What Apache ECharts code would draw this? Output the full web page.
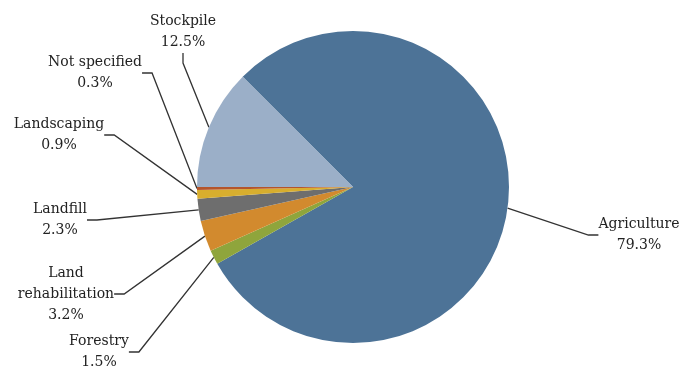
<!DOCTYPE html>
<html>
<head>
<meta charset="utf-8">
<script src="https://cdn.jsdelivr.net/npm/echarts@6/dist/echarts.min.js"></script>
<style>
  html, body { margin: 0; padding: 0; background: #ffffff; }
  #chart { width: 685px; height: 367px; }
</style>
</head>
<body>
<div id="chart"></div>
<script>
// Data (percent shares)
const categories = ["Agriculture", "Forestry", "Land\nrehabilitation", "Landfill", "Landscaping", "Not specified", "Stockpile"];
const values = [79.3, 1.5, 3.2, 2.3, 0.9, 0.3, 12.5];
const valueLabels = ["79.3%", "1.5%", "3.2%", "2.3%", "0.9%", "0.3%", "12.5%"];

// Styling (kept separate from data)
const colors = ["#4d7397", "#8fa53c", "#d28a2e", "#6e6e6e", "#d8ae2e", "#b4552c", "#9bafc8"];
const labelCenters = {
  "Agriculture": [639, 235],
  "Forestry": [99, 352],
  "Land\nrehabilitation": [66, 294],
  "Landfill": [60, 220],
  "Landscaping": [59, 135],
  "Not specified": [95, 73],
  "Stockpile": [183, 32]
};

const data = categories.map((c, i) => ({
  name: c,
  value: values[i],
  itemStyle: { color: colors[i] },
  label: { formatter: c + "\n" + valueLabels[i] }
}));

const chart = echarts.init(document.getElementById('chart'), null, { renderer: 'canvas' });
chart.setOption({
  backgroundColor: '#ffffff',
  animation: false,
  series: [{
    type: 'pie',
    center: [353, 187],
    radius: [0, 156],
    startAngle: 135,
    clockwise: true,
    avoidLabelOverlap: false,
    data: data,
    label: {
      show: true,
      position: 'outside',
      color: '#222222',
      fontFamily: 'DejaVu Serif',
      fontSize: 14,
      lineHeight: 21,
      align: 'center'
    },
    labelLine: {
      show: true,
      length: 10,
      length2: 10,
      lineStyle: { color: '#333333', width: 1.3 }
    },
    labelLayout: function (params) {
      const name = categories[params.dataIndex];
      const p = labelCenters[name];
      return {
        x: p[0],
        y: p[1],
        align: 'center',
        verticalAlign: 'middle'
      };
    },
    emphasis: { disabled: true }
  }]
});
</script>
</body>
</html>
